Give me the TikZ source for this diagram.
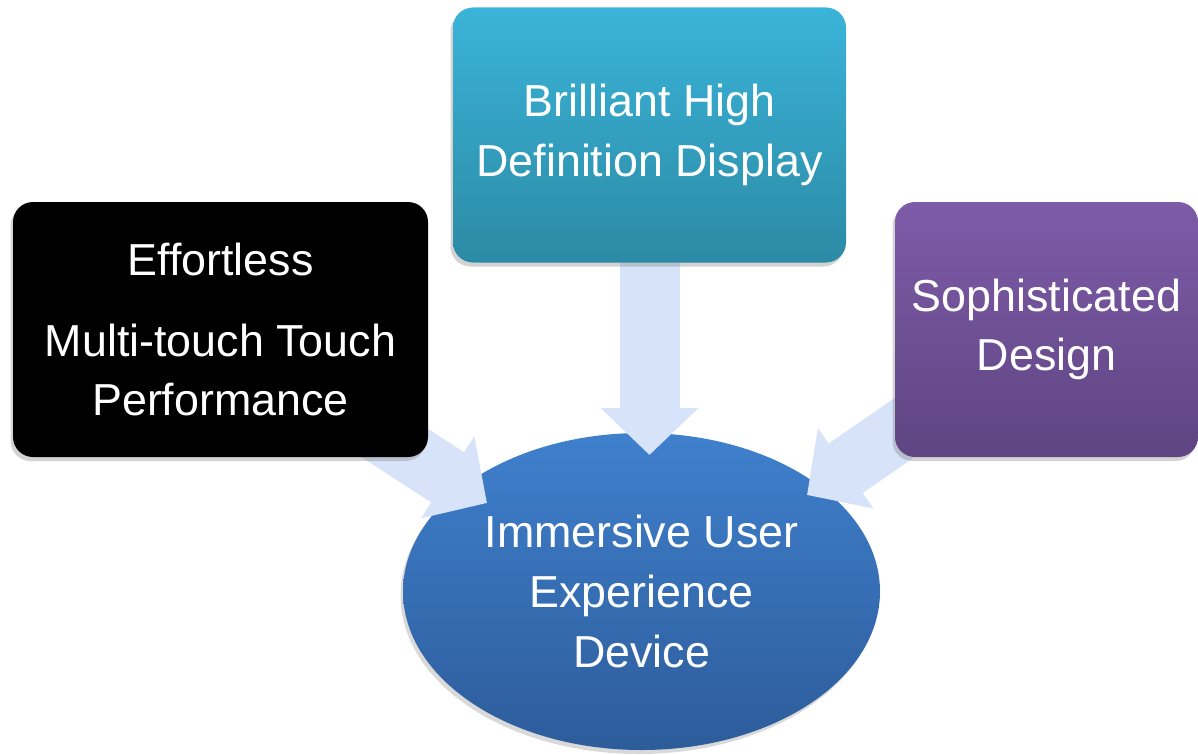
\documentclass[tikz,border=0pt]{standalone}
\usepackage{fontspec}
\setmainfont{Liberation Sans}
\usetikzlibrary{arrows.meta,shapes.geometric,shadows}
\definecolor{arrowblue}{HTML}{D6E3F8}
\definecolor{tealtop}{HTML}{3AB4D9}
\definecolor{tealbot}{HTML}{2C8AA5}
\definecolor{purptop}{HTML}{7E5BA8}
\definecolor{purpbot}{HTML}{5F4582}
\definecolor{bluetop}{HTML}{3F80CD}
\definecolor{bluebot}{HTML}{2D5C9A}
\pgfdeclarelayer{back}
\pgfdeclarelayer{mid}
\pgfsetlayers{back,mid,main}
\tikzset{
	feature/.style={rectangle, rounded corners=0.4cm, minimum height=5.1cm, inner sep=0pt,
		align=center, text=white, font=\fontsize{25.5}{34}\selectfont,
		drop shadow={shadow xshift=-0.05cm, shadow yshift=-0.08cm, opacity=0.35}},
	bigarrow/.style={line width=1.2cm, draw=arrowblue, -{Triangle[length=0.94cm, width=1.9cm]}},
}
\begin{document}
\begin{tikzpicture}
	\useasboundingbox (0,0) rectangle (23.96,-15.1);
	\node[feature, minimum width=8.3cm, fill=black] (eff) at (4.41, -6.59) {Effortless\\[12pt]Multi-touch Touch\\Performance};
	\node[feature, minimum width=7.86cm, top color=tealtop, bottom color=tealbot] (disp) at (12.99, -2.7) {Brilliant High\\Definition Display};
	\node[feature, minimum width=6.06cm, top color=purptop, bottom color=purpbot] (sop) at (20.93, -6.59) {Sophisticated\\Design};
	\begin{pgfonlayer}{back}
	\node[ellipse, minimum width=9.54cm, minimum height=6.34cm, inner sep=0pt, align=center,
		text=white, font=\fontsize{25.5}{34}\selectfont, top color=bluetop, bottom color=bluebot,
		drop shadow={shadow xshift=-0.05cm, shadow yshift=-0.08cm, opacity=0.3}] (dev) at (12.83, -11.83) {Immersive User\\Experience\\Device};
	\end{pgfonlayer}
	\coordinate (tipL) at (9.74, -10.06);
	\coordinate (tipT) at (12.99, -9.1);
	\coordinate (tipR) at (16.14, -9.9);
	\begin{pgfonlayer}{mid}
	 \draw[bigarrow] (eff.center) -- (tipL);
	 \draw[bigarrow] (disp.center) -- (tipT);
	 \draw[bigarrow] (sop.center) -- (tipR);
	\end{pgfonlayer}
\end{tikzpicture}
\end{document}
